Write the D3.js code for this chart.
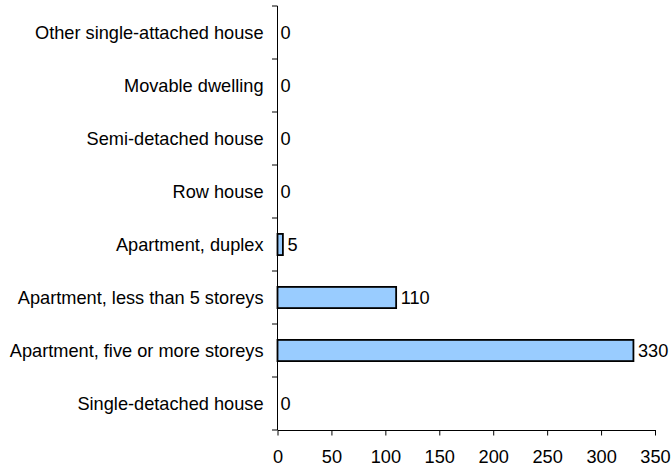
<!DOCTYPE html>
<html><head><meta charset="utf-8">
<script src="https://cdn.jsdelivr.net/npm/d3@7"></script>
<style>body{margin:0;background:#fff}svg{display:block}text{font-family:"Liberation Sans",Arial,sans-serif}</style>
</head><body>
<svg id="c" width="672" height="472"></svg>
<script>
const categories = ["Other single-attached house","Movable dwelling","Semi-detached house","Row house","Apartment, duplex","Apartment, less than 5 storeys","Apartment, five or more storeys","Single-detached house"];
const values = [0,0,0,0,5,110,330,0];
const xTicks = [0,50,100,150,200,250,300,350];

const FS = 18.2;
const svg = d3.select("#c");
const m = {l:277.5, r:655, t:6, b:430};
const x = d3.scaleLinear().domain([0,350]).range([m.l,m.r]);
const y = d3.scaleBand().domain(categories).range([m.t,m.b]).paddingInner(0.6).paddingOuter(0.3);
const yb = d3.scaleBand().domain(categories).range([m.t,m.b]);

// bars
svg.selectAll("rect.bar").data(categories).join("rect")
  .attr("x", x(0)).attr("y", d=>y(d))
  .attr("width", (d,i)=>x(values[i])-x(0)).attr("height", y.bandwidth())
  .attr("fill","#99CCFF").attr("stroke","#000").attr("stroke-width",1.8)
  .attr("display",(d,i)=>values[i]>0?null:"none");

// value labels
svg.selectAll("text.val").data(categories).join("text")
  .attr("x",(d,i)=>x(values[i])+(values[i]>0?4.5:3)).attr("y",d=>y(d)+y.bandwidth()/2)
  .attr("dy","0.35em").attr("font-size",FS).attr("fill","#000")
  .text((d,i)=>values[i]);

// y axis
const yAxis = svg.append("g");
yAxis.append("line").attr("x1",m.l).attr("x2",m.l).attr("y1",m.t).attr("y2",m.b).attr("stroke","#000");
const yTickPos = categories.map(c=>yb(c)).concat([m.b]);
yAxis.selectAll("line.t").data(yTickPos).join("line")
  .attr("x1",m.l-5.5).attr("x2",m.l).attr("y1",d=>d).attr("y2",d=>d).attr("stroke","#000");
yAxis.selectAll("text").data(categories).join("text")
  .attr("x",m.l-14).attr("y",d=>yb(d)+yb.bandwidth()/2).attr("dy","0.35em")
  .attr("text-anchor","end").attr("font-size",FS).attr("fill","#000").text(d=>d);

// x axis
const xAxis = svg.append("g").attr("transform",`translate(0,${m.b})`)
  .call(d3.axisBottom(x).tickValues(xTicks).tickSize(5.5).tickSizeOuter(0).tickPadding(15));
xAxis.select(".domain").attr("stroke","#000");
xAxis.selectAll(".tick line").attr("stroke","#000");
xAxis.selectAll("text").attr("font-size",FS).attr("fill","#000").style("font-family","'Liberation Sans',Arial,sans-serif");
</script>
</body></html>
